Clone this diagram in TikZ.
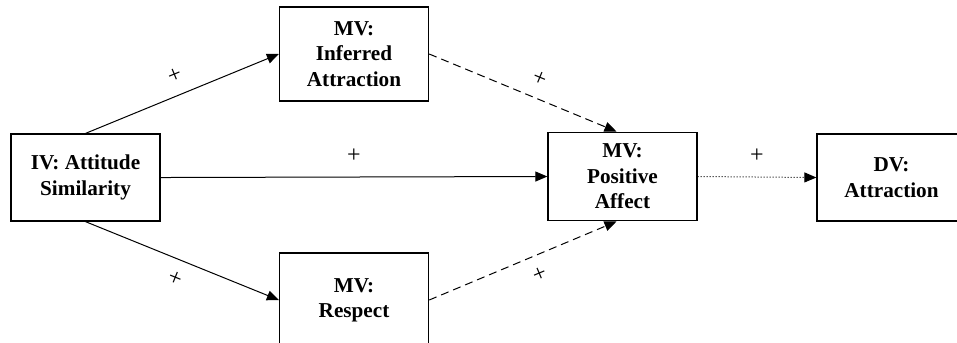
\documentclass[tikz,border=0pt]{standalone}
\usepackage{fontspec}
\setmainfont{Liberation Serif}
\usetikzlibrary{arrows.meta}

\begin{document}
\begin{tikzpicture}[>={Triangle[length=6pt,width=5pt]},
  var/.style={draw,line width=0.6pt,align=center,minimum width=2.62cm,inner sep=2pt,
    font=\fontsize{10.6}{12.7}\selectfont\bfseries},
  path/.style={->,line width=0.5pt},
  sign/.style={font=\fontsize{12}{12}\selectfont,inner sep=1pt}]
\useasboundingbox (0,0) rectangle (16.819,-6.011);
\node[var,minimum height=1.53cm] (IV) at (1.503,-3.120) {IV: Attitude\\Similarity};
\node[var,minimum height=1.65cm] (MVi) at (6.222,-0.949) {MV:\\Inferred\\Attraction};
\node[var,minimum height=1.65cm] (MVr) at (6.222,-5.273) {MV:\\Respect};
\node[var,minimum height=1.56cm] (MVp) at (10.940,-3.102) {MV:\\Positive\\Affect};
\node[var,minimum height=1.53cm] (DV) at (15.668,-3.120) {DV:\\Attraction};
\draw[path] (IV.north) -- (MVi.west) node[sign,midway,sloped,above=5pt]{+};
\draw[path] (IV.south) -- (MVr.west) node[sign,midway,sloped,below=5pt]{+};
\draw[path] (IV.east) -- (MVp.west) node[sign,midway,above=6pt]{+};
\draw[path,dash pattern=on 4pt off 2.5pt] (MVi.east) -- ([xshift=-3pt]MVp.north) node[sign,pos=0.55,sloped,above=5pt]{+};
\draw[path,dash pattern=on 4pt off 2.5pt] (MVr.east) -- ([xshift=-3pt]MVp.south) node[sign,pos=0.55,sloped,below=5pt]{+};
\draw[path,densely dotted] (MVp.east) -- (DV.west) node[sign,midway,above=6pt]{+};
\end{tikzpicture}
\end{document}
